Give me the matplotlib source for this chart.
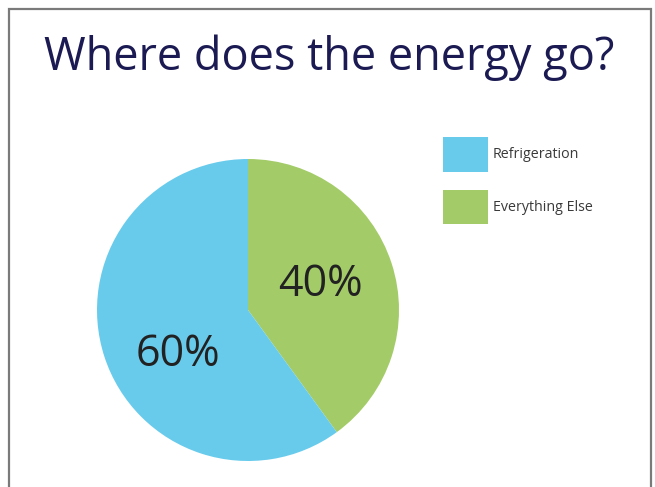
import matplotlib
matplotlib.use("Agg")
import matplotlib.pyplot as plt
import matplotlib.patches as mpatches
import numpy as np

title = "Where does the energy go?"
categories = ["Everything Else", "Refrigeration"]
values = [40, 60]
colors = ["#A3CC68", "#68CBEC"]
legend_order = ["Refrigeration", "Everything Else"]

W, H = 655, 487
fig = plt.figure(figsize=(W / 100, H / 100), dpi=100)
fig.patch.set_facecolor("white")

# border
fig.patches.append(mpatches.Rectangle((9 / W, -0.05), (651 - 9) / W, (H - 9) / H + 0.05,
                                      transform=fig.transFigure, fill=False,
                                      edgecolor="#7a7a7a", linewidth=1.6))

t = fig.text(44 / W, 1 - 70 / H, title, fontsize=35, color="#1b1a52",
             family="Open Sans", ha="left", va="baseline")
renderer = fig.canvas.get_renderer()
w = t.get_window_extent(renderer).width
t.set_fontsize(35 * 571 / w)

cx, cy, r = 248, 310, 151
ax = fig.add_axes([(cx - r) / W, (H - cy - r) / H, 2 * r / W, 2 * r / H])
wedges, _ = ax.pie(values, colors=colors, startangle=90, counterclock=False,
                   radius=1, wedgeprops=dict(linewidth=0))
ax.set_xlim(-1, 1)
ax.set_ylim(-1, 1)
ax.set_aspect("auto")
ax.axis("off")

# percentage labels
label_pos = {"Everything Else": (19, 0.505), "Refrigeration": (212.7, 0.551)}
for cat, v in zip(categories, values):
    ang, d = label_pos[cat]
    a = np.deg2rad(ang)
    ax.text(d * np.cos(a), d * np.sin(a), f"{v}%", ha="center", va="center",
            fontsize=31, color="#222222", family="Open Sans")

handles = [wedges[categories.index(c)] for c in legend_order]
leg = fig.legend(handles, legend_order, loc="upper left",
                 bbox_to_anchor=(443 / W, 1 - 137 / H), frameon=False,
                 prop=dict(family="Open Sans", size=10.3), labelcolor="#3a3a3a",
                 handlelength=3.15, handleheight=3.35, handletextpad=0.35,
                 labelspacing=1.25, borderpad=0, borderaxespad=0)

fig.savefig("out.png", dpi=100, facecolor="white")
